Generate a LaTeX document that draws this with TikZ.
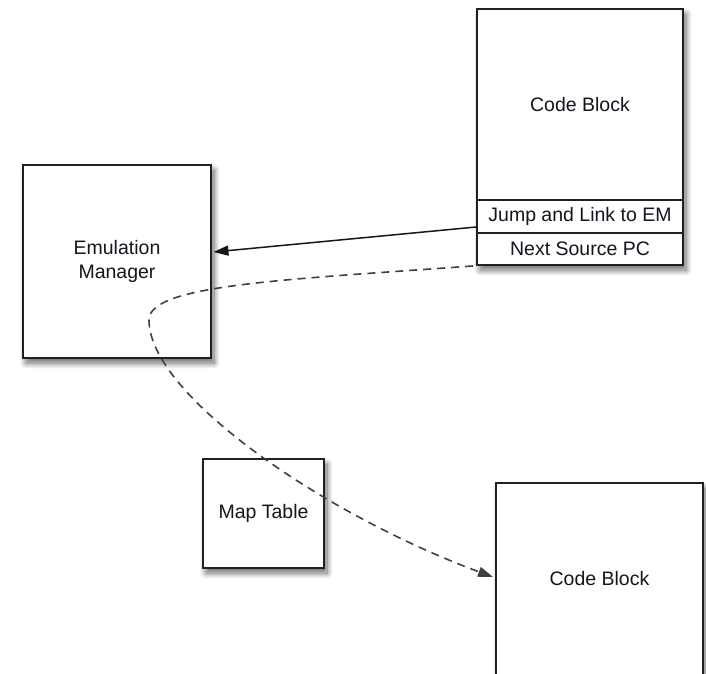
\documentclass[tikz,border=0pt]{standalone}
\usepackage{fontspec}
\setmainfont{Liberation Sans}
\usetikzlibrary{arrows.meta,shadows.blur,calc}
\definecolor{edge}{HTML}{202020}
\definecolor{ink}{HTML}{15151E}
\definecolor{dashgrey}{HTML}{404040}
\tikzset{
  box/.style={draw=edge, line width=1.9pt, fill=white, rectangle, inner sep=0pt,
    text=ink, font=\fontsize{19.5}{23.5}\selectfont, align=center},
  softshadow/.style={blur shadow={shadow xshift=3pt, shadow yshift=-5pt,
    shadow blur radius=6pt, shadow blur steps=12, shadow opacity=60}},
  link/.style={draw=ink, line width=1.5pt, -{Triangle[length=15pt,width=10pt]}},
  jump/.style={draw=dashgrey, line width=1.6pt, dash pattern=on 8pt off 6pt,
    -{Triangle[length=15pt,width=10pt]}}
}
\begin{document}
\begin{tikzpicture}[x=1pt, y=-1pt]
  \useasboundingbox (0,0) rectangle (706,673);

  % upper code block: body plus two trailing slots, one common shadow
  \path[softshadow, fill=white] (477,9) rectangle (683,265);
  \node[box, minimum width=206pt, minimum height=191pt] (cb1) at (580,104.5) {Code Block};
  \node[box, minimum width=206pt, minimum height=33pt] (jal) at (580,216.5) {Jump and Link to EM};
  \node[box, minimum width=206pt, minimum height=32pt] (nsp) at (580,249) {Next Source PC};

  % emulation manager
  \node[box, softshadow, minimum width=188pt, minimum height=193pt] (em) at (117,261.5)
    {Emulation\\Manager};

  % map table
  \node[box, softshadow, minimum width=121pt, minimum height=109pt] (map) at (263.5,513.5)
    {Map Table};

  % lower code block (runs past the bottom edge)
  \node[box, softshadow, minimum width=207pt, minimum height=192pt] (cb2) at (599.5,579)
    {Code Block};

  % connectors
  \coordinate (jalout) at ($(jal.west)+(0,10.5)$);
  \coordinate (emin) at ($(em.east)+(1.5,-9.5)$);
  \draw[link] (jalout) -- (emin);

  \coordinate (nspout) at ($(nsp.south west)+(-3,0)$);
  \coordinate (turn) at (149,320);
  \coordinate (cb2in) at ($(cb2.west)+(-2,-2)$);
  \draw[jump] (nspout) .. controls (280,280) and (149,285) .. (turn)
              .. controls (149,395) and (325,515) .. (cb2in);
\end{tikzpicture}
\end{document}
